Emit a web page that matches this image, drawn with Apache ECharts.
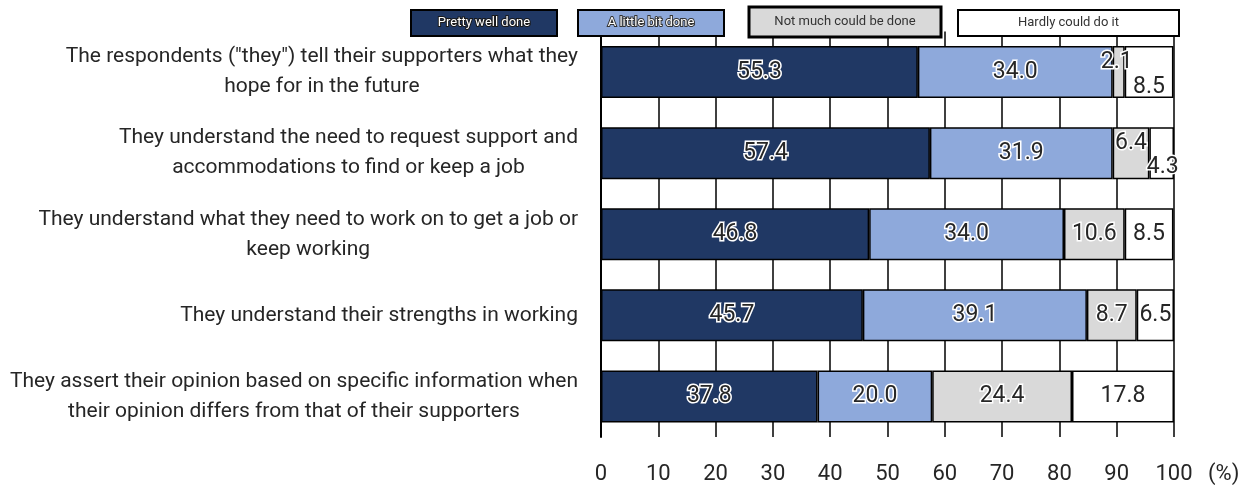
<!DOCTYPE html>
<html>
<head>
<meta charset="utf-8">
<script src="https://cdn.jsdelivr.net/npm/echarts@6/dist/echarts.min.js"></script>
<style>
html,body{margin:0;padding:0;background:#fff;}
#chart{width:1256px;height:488px;}
</style>
</head>
<body>
<div id="chart"></div>
<script>
const categories = [
  'The respondents ("they") tell their supporters what they\nhope for in the future',
  'They understand the need to request support and\naccommodations to find or keep a job',
  'They understand what they need to work on to get a job or\nkeep working',
  'They understand their strengths in working',
  'They assert their opinion based on specific information when\ntheir opinion differs from that of their supporters'
];
const seriesNames = ['Pretty well done', 'A little bit done', 'Not much could be done', 'Hardly could do it'];
const prettyWell = [55.3, 57.4, 46.8, 45.7, 37.8];
const littleBit = [34.0, 31.9, 34.0, 39.1, 20.0];
const notMuch = [2.1, 6.4, 10.6, 8.7, 24.4];
const hardly = [8.5, 4.3, 8.5, 6.5, 17.8];
const xTickLabels = ['0','10','20','30','40','50','60','70','80','90','100'];
const unitLabel = '(%)';

const FONT = '"Liberation Sans Narrow", "Arial Narrow", Roboto, sans-serif';
const colors = ['#203864', '#8EA9DB', '#D9D9D9', '#FFFFFF'];
const values = [prettyWell, littleBit, notMuch, hardly];
// manual label nudges (series index -> row index -> [dx, dy])
const labelNudges = { 2: { 0: [-2, -10], 1: [0, -10] }, 3: { 0: [0, 15], 1: [1, 14] } };

const chart = echarts.init(document.getElementById('chart'), null, { renderer: 'canvas' });

const series = values.map((arr, si) => ({
  name: seriesNames[si],
  type: 'bar',
  stack: 'total',
  barWidth: 52,
  itemStyle: { color: colors[si], borderColor: '#000', borderWidth: 1.5 },
  label: {
    show: true,
    position: 'inside',
    fontFamily: FONT,
    fontSize: 23,
    color: '#262626',
    textBorderColor: '#fff',
    textBorderWidth: 3,
    formatter: p => p.value.toFixed(1)
  },
  data: arr.map((v, ri) => {
    const nudge = labelNudges[si] && labelNudges[si][ri];
    return nudge ? { value: v, label: { offset: nudge } } : { value: v };
  })
}));

// legend boxes (drawn as graphics: text inside colored boxes)
const legendBoxes = [
  { x: 411, y: 10, w: 146, h: 26, lw: 2, text: '#fff', tb: '#1a1a1a' },
  { x: 578, y: 10, w: 146, h: 26, lw: 2, text: '#fff', tb: '#333' },
  { x: 749, y: 7, w: 192, h: 30, lw: 3, text: '#333', tb: null },
  { x: 958, y: 10, w: 221, h: 26, lw: 2, text: '#333', tb: null }
];
const graphic = [];
legendBoxes.forEach((b, i) => {
  graphic.push({
    type: 'rect', z: 100,
    shape: { x: b.x, y: b.y, width: b.w, height: b.h },
    style: { fill: colors[i], stroke: '#000', lineWidth: b.lw }
  });
  graphic.push({
    type: 'text', z: 101,
    x: b.x + b.w / 2, y: b.y + b.h / 2,
    style: {
      text: seriesNames[i], fontFamily: FONT, fontSize: 13,
      fill: b.text, align: 'center', verticalAlign: 'middle',
      stroke: b.tb || null, lineWidth: b.tb ? 2 : 0
    }
  });
});
graphic.push({
  type: 'text', z: 101, x: 1208, y: 474,
  style: { text: unitLabel, fontFamily: FONT, fontSize: 22, fill: '#262626', verticalAlign: 'middle' }
});

chart.setOption({
  animation: false,
  backgroundColor: '#fff',
  grid: { left: 601, right: 82, top: 31.5, bottom: 51, containLabel: false, outerBoundsMode: 'none' },
  xAxis: {
    type: 'value', min: 0, max: 100, interval: 10,
    axisLine: { show: false },
    axisTick: { show: false },
    splitLine: { show: true, lineStyle: { color: '#000', width: 1.5 } },
    axisLabel: {
      margin: 26, fontFamily: FONT, fontSize: 22, color: '#262626',
      formatter: v => xTickLabels[Math.round(v / 10)]
    }
  },
  yAxis: {
    type: 'category', inverse: true, data: categories,
    axisLine: { show: true, lineStyle: { color: '#000', width: 2 } },
    axisTick: { show: false },
    splitLine: { show: false },
    axisLabel: {
      margin: 23, fontFamily: FONT, fontSize: 21, color: '#262626', lineHeight: 30,
      formatter: v => v.split('\n').map(l => '{c|' + l + '}').join('\n'),
      rich: { c: { align: 'center', fontFamily: FONT, fontSize: 21, color: '#262626', lineHeight: 30 } }
    }
  },
  graphic: graphic,
  series: series
});
</script>
</body>
</html>
